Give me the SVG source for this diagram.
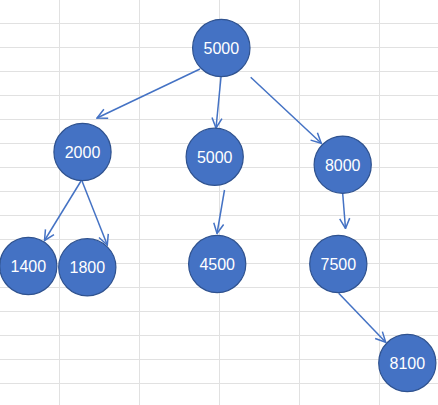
<svg xmlns="http://www.w3.org/2000/svg" width="438" height="405" viewBox="0 0 438 405">
<style>
.grid line{stroke:#e1e1e1;stroke-width:1}
.node circle{fill:#4472c4;stroke:#2f528f;stroke-width:1.2}
.node text{fill:#ffffff;font-family:"Liberation Sans",Arial,sans-serif;font-size:16px;text-anchor:middle}
.edges line{stroke:#4472c4;stroke-width:1.5;marker-end:url(#arr)}
</style>
<defs>
<marker id="arr" markerUnits="userSpaceOnUse" viewBox="0 0 12 12" refX="11" refY="6" markerWidth="12" markerHeight="12" orient="auto">
<path d="M1,1 L11,6 L1,11" fill="none" stroke="#4472c4" stroke-width="1.5"/>
</marker>
</defs>
<rect width="438" height="405" fill="#ffffff"/>
<g class="grid">
<line x1="0" y1="23.5" x2="438" y2="23.5"/>
<line x1="0" y1="47.5" x2="438" y2="47.5"/>
<line x1="0" y1="71.5" x2="438" y2="71.5"/>
<line x1="0" y1="95.5" x2="438" y2="95.5"/>
<line x1="0" y1="119.5" x2="438" y2="119.5"/>
<line x1="0" y1="143.5" x2="438" y2="143.5"/>
<line x1="0" y1="167.5" x2="438" y2="167.5"/>
<line x1="0" y1="191.5" x2="438" y2="191.5"/>
<line x1="0" y1="215.5" x2="438" y2="215.5"/>
<line x1="0" y1="239.5" x2="438" y2="239.5"/>
<line x1="0" y1="263.5" x2="438" y2="263.5"/>
<line x1="0" y1="287.5" x2="438" y2="287.5"/>
<line x1="0" y1="311.5" x2="438" y2="311.5"/>
<line x1="0" y1="335.5" x2="438" y2="335.5"/>
<line x1="0" y1="359.5" x2="438" y2="359.5"/>
<line x1="0" y1="383.5" x2="438" y2="383.5"/>
<line x1="59.5" y1="0" x2="59.5" y2="405"/>
<line x1="139.5" y1="0" x2="139.5" y2="405"/>
<line x1="219.5" y1="0" x2="219.5" y2="405"/>
<line x1="299.5" y1="0" x2="299.5" y2="405"/>
<line x1="379.5" y1="0" x2="379.5" y2="405"/>
</g>
<g class="edges">
<line x1="200" y1="69" x2="97" y2="118"/>
<line x1="221" y1="77" x2="216" y2="128"/>
<line x1="250.7" y1="77.3" x2="321.3" y2="143.3"/>
<line x1="81" y1="181" x2="44.5" y2="240.5"/>
<line x1="82" y1="181" x2="107.3" y2="245"/>
<line x1="224.5" y1="190" x2="217" y2="233.5"/>
<line x1="342.7" y1="193.5" x2="345.5" y2="228.5"/>
<line x1="338.7" y1="293.3" x2="385.7" y2="342.3"/>
</g>
<g id="n5000a" class="node"><circle cx="221.3" cy="48" r="28.7"/><text x="221.3" y="54">5000</text></g>
<g id="n2000" class="node"><circle cx="82.5" cy="152" r="28.6"/><text x="82.5" y="158">2000</text></g>
<g id="n5000b" class="node"><circle cx="214.7" cy="156.8" r="28.6"/><text x="214.7" y="162.8">5000</text></g>
<g id="n8000" class="node"><circle cx="342.7" cy="164.7" r="28.6"/><text x="342.7" y="170.7">8000</text></g>
<g id="n1400" class="node"><circle cx="28.3" cy="266" r="28.6"/><text x="28.3" y="272">1400</text></g>
<g id="n1800" class="node"><circle cx="87.3" cy="267.3" r="28.6"/><text x="87.3" y="273.3">1800</text></g>
<g id="n4500" class="node"><circle cx="217.2" cy="264" r="28.6"/><text x="217.2" y="270">4500</text></g>
<g id="n7500" class="node"><circle cx="338.3" cy="264" r="28.6"/><text x="338.3" y="270">7500</text></g>
<g id="n8100" class="node"><circle cx="407.3" cy="363" r="28.6"/><text x="407.3" y="369">8100</text></g>
</svg>
